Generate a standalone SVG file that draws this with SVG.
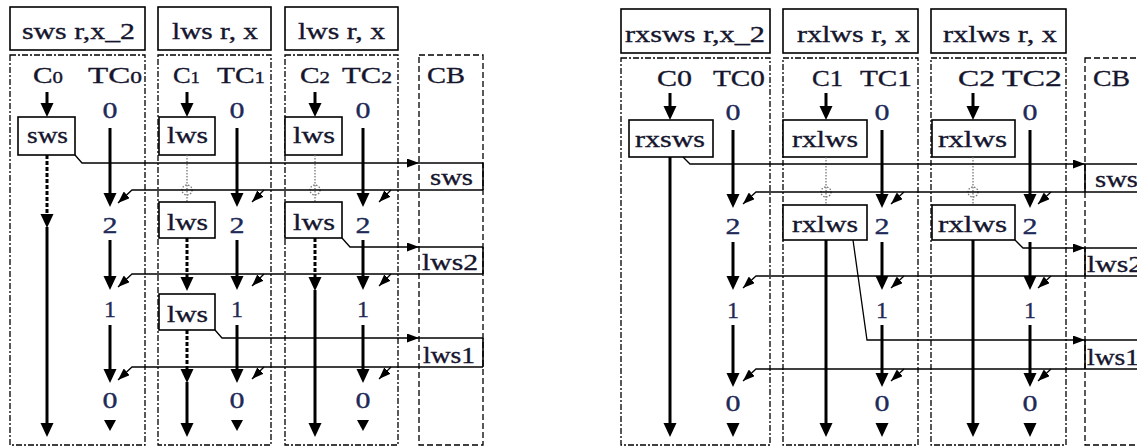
<svg xmlns="http://www.w3.org/2000/svg" xmlns:xlink="http://www.w3.org/1999/xlink" width="1137" height="447" viewBox="0 0 1137 447">
  <style>
    .t { font-family: "Liberation Serif", "Times New Roman", serif; font-size: 24px; fill: #15152e; stroke: #15152e; stroke-width: 0.35; }
    .d { font-family: "Liberation Serif", "Times New Roman", serif; font-size: 24px; fill: #1e2a58; stroke: #1e2a58; stroke-width: 0.35; text-anchor: middle; }
    .sub { font-size: 17px; }
    .box { fill: #fff; stroke: #000; stroke-width: 1.6; }
    .panel { fill: none; stroke: #000; stroke-width: 1.3; stroke-dasharray: 6 2 2 2; }
    .cbp { fill: none; stroke: #000; stroke-width: 1.3; stroke-dasharray: 6 3; }
    .thick { stroke: #000; stroke-width: 3; fill: none; }
    .thickdot { stroke: #000; stroke-width: 3; stroke-dasharray: 4 2; fill: none; }
    .thin { stroke: #000; stroke-width: 1.3; fill: none; }
    .edge { stroke: #000; stroke-width: 1.6; fill: none; }
    .ghost { stroke: #777; stroke-width: 1.3; stroke-dasharray: 1.5 1.5; fill: none; }
  </style>
  <defs>
    <path id="ahd" d="M-6.5,-14 L6.5,-14 L0,0 z" fill="#000"/>
    <path id="ahs" d="M-6,-11 L6,-11 L0,0 z" fill="#000"/>
    <marker id="ar" viewBox="0 0 12 9" refX="12" refY="4.5" markerWidth="12" markerHeight="9" markerUnits="userSpaceOnUse" orient="auto">
      <path d="M0,0 L12,4.5 L0,9 z" fill="#000"/>
    </marker>
  </defs>

  <!-- ===================== left figure: sws / lws ===================== -->
  <g id="left-titles">
    <rect class="box" x="10" y="7" width="135" height="43"/>
    <text class="t" x="22" y="39" textLength="113" lengthAdjust="spacingAndGlyphs">sws r,x_2</text>
    <rect class="box" x="158" y="7" width="113" height="43"/>
    <text class="t" x="172" y="39" textLength="86" lengthAdjust="spacingAndGlyphs">lws r, x</text>
    <rect class="box" x="285" y="7" width="113" height="43"/>
    <text class="t" x="298" y="39" textLength="87" lengthAdjust="spacingAndGlyphs">lws r, x</text>
  </g>

  <g id="left-core0">
    <rect class="panel" x="10" y="55" width="135" height="390"/>
    <text class="t" x="33" y="83" textLength="30" lengthAdjust="spacingAndGlyphs">C<tspan class="sub">0</tspan></text>
    <text class="t" x="88" y="83" textLength="54" lengthAdjust="spacingAndGlyphs">TC<tspan class="sub">0</tspan></text>
    <line class="thick" x1="47" y1="92" x2="47" y2="104"/>
    <use xlink:href="#ahd" x="47" y="117"/>
    <rect class="box" x="18" y="117" width="57" height="38"/>
    <text class="t" x="27" y="143" textLength="41" lengthAdjust="spacingAndGlyphs">sws</text>
    <line class="thickdot" x1="47" y1="155" x2="47" y2="215"/>
    <use xlink:href="#ahd" x="47" y="228"/>
    <line class="thick" x1="47" y1="227" x2="47" y2="424"/>
    <use xlink:href="#ahd" x="47" y="437"/>
    <!-- timestamp counter -->
    <text class="d" x="110" y="118" textLength="15" lengthAdjust="spacingAndGlyphs">0</text>
    <line class="thick" x1="110" y1="128" x2="110" y2="194"/>
    <use xlink:href="#ahd" x="110" y="207"/>
    <text class="d" x="110" y="233" textLength="15" lengthAdjust="spacingAndGlyphs">2</text>
    <line class="thick" x1="110" y1="240" x2="110" y2="277"/>
    <use xlink:href="#ahd" x="110" y="290"/>
    <text class="d" x="110" y="317">1</text>
    <line class="thick" x1="110" y1="325" x2="110" y2="370"/>
    <use xlink:href="#ahd" x="110" y="383"/>
    <text class="d" x="110" y="408" textLength="15" lengthAdjust="spacingAndGlyphs">0</text>
    <use xlink:href="#ahs" x="110" y="431"/>
  </g>

  <g id="left-core1">
    <rect class="panel" x="158" y="55" width="113" height="390"/>
    <text class="t" x="173" y="83" textLength="27" lengthAdjust="spacingAndGlyphs">C<tspan class="sub">1</tspan></text>
    <text class="t" x="217" y="83" textLength="48" lengthAdjust="spacingAndGlyphs">TC<tspan class="sub">1</tspan></text>
    <line class="thick" x1="187" y1="92" x2="187" y2="104"/>
    <use xlink:href="#ahd" x="187" y="117"/>
    <rect class="box" x="159" y="117" width="56" height="38"/>
    <text class="t" x="167" y="143" textLength="41" lengthAdjust="spacingAndGlyphs">lws</text>
    <line class="ghost" x1="187" y1="155" x2="187" y2="202"/>
    <circle class="ghost" cx="187" cy="190" r="5"/>
    <rect class="box" x="159" y="202" width="56" height="36"/>
    <text class="t" x="167" y="230" textLength="41" lengthAdjust="spacingAndGlyphs">lws</text>
    <line class="thickdot" x1="187" y1="238" x2="187" y2="278"/>
    <use xlink:href="#ahd" x="187" y="291"/>
    <rect class="box" x="159" y="294" width="56" height="36"/>
    <text class="t" x="167" y="322" textLength="41" lengthAdjust="spacingAndGlyphs">lws</text>
    <line class="thickdot" x1="187" y1="330" x2="187" y2="370"/>
    <use xlink:href="#ahd" x="187" y="383"/>
    <line class="thick" x1="187" y1="382" x2="187" y2="424"/>
    <use xlink:href="#ahd" x="187" y="437"/>
    <text class="d" x="237" y="118" textLength="15" lengthAdjust="spacingAndGlyphs">0</text>
    <line class="thick" x1="237" y1="128" x2="237" y2="194"/>
    <use xlink:href="#ahd" x="237" y="207"/>
    <text class="d" x="237" y="233" textLength="15" lengthAdjust="spacingAndGlyphs">2</text>
    <line class="thick" x1="237" y1="240" x2="237" y2="277"/>
    <use xlink:href="#ahd" x="237" y="290"/>
    <text class="d" x="237" y="317">1</text>
    <line class="thick" x1="237" y1="325" x2="237" y2="370"/>
    <use xlink:href="#ahd" x="237" y="383"/>
    <text class="d" x="237" y="408" textLength="15" lengthAdjust="spacingAndGlyphs">0</text>
    <use xlink:href="#ahs" x="237" y="431"/>
  </g>

  <g id="left-core2">
    <rect class="panel" x="285" y="55" width="113" height="390"/>
    <text class="t" x="300" y="83" textLength="30" lengthAdjust="spacingAndGlyphs">C<tspan class="sub">2</tspan></text>
    <text class="t" x="342" y="83" textLength="50" lengthAdjust="spacingAndGlyphs">TC<tspan class="sub">2</tspan></text>
    <line class="thick" x1="315" y1="92" x2="315" y2="104"/>
    <use xlink:href="#ahd" x="315" y="117"/>
    <rect class="box" x="285" y="117" width="57" height="38"/>
    <text class="t" x="293" y="143" textLength="42" lengthAdjust="spacingAndGlyphs">lws</text>
    <line class="ghost" x1="315" y1="155" x2="315" y2="202"/>
    <circle class="ghost" cx="315" cy="190" r="5"/>
    <rect class="box" x="285" y="202" width="57" height="36"/>
    <text class="t" x="293" y="230" textLength="42" lengthAdjust="spacingAndGlyphs">lws</text>
    <line class="thickdot" x1="315" y1="238" x2="315" y2="278"/>
    <use xlink:href="#ahd" x="315" y="291"/>
    <line class="thick" x1="315" y1="290" x2="315" y2="424"/>
    <use xlink:href="#ahd" x="315" y="437"/>
    <text class="d" x="363" y="118" textLength="15" lengthAdjust="spacingAndGlyphs">0</text>
    <line class="thick" x1="363" y1="128" x2="363" y2="194"/>
    <use xlink:href="#ahd" x="363" y="207"/>
    <text class="d" x="363" y="233" textLength="15" lengthAdjust="spacingAndGlyphs">2</text>
    <line class="thick" x1="363" y1="240" x2="363" y2="277"/>
    <use xlink:href="#ahd" x="363" y="290"/>
    <text class="d" x="363" y="317">1</text>
    <line class="thick" x1="363" y1="325" x2="363" y2="370"/>
    <use xlink:href="#ahd" x="363" y="383"/>
    <text class="d" x="363" y="408" textLength="15" lengthAdjust="spacingAndGlyphs">0</text>
    <use xlink:href="#ahs" x="363" y="431"/>
  </g>

  <g id="left-cb">
    <rect class="cbp" x="419" y="55" width="64" height="390"/>
    <text class="t" x="427" y="83" textLength="38" lengthAdjust="spacingAndGlyphs">CB</text>
    <line class="edge" x1="483" y1="163" x2="483" y2="190"/>
    <text class="t" x="430" y="185" textLength="43" lengthAdjust="spacingAndGlyphs">sws</text>
    <line class="edge" x1="483" y1="247" x2="483" y2="274"/>
    <text class="t" x="422" y="270" textLength="56" lengthAdjust="spacingAndGlyphs">lws2</text>
    <line class="edge" x1="483" y1="338" x2="483" y2="367"/>
    <text class="t" x="423" y="363" textLength="52" lengthAdjust="spacingAndGlyphs">lws1</text>
  </g>

  <g id="left-connectors">
    <line class="thin" x1="419" y1="163" x2="483" y2="163"/>
    <line class="thin" x1="419" y1="247" x2="483" y2="247"/>
    <line class="thin" x1="419" y1="338" x2="483" y2="338"/>
    <path class="thin" d="M75,155 L82,163 L419,163" marker-end="url(#ar)"/>
    <path class="thin" d="M342,238 L350,247 L419,247" marker-end="url(#ar)"/>
    <path class="thin" d="M215,330 L222,338 L419,338" marker-end="url(#ar)"/>
    <path class="thin" d="M483,190 L132,190 L118,203" marker-end="url(#ar)"/>
    <path class="thin" d="M264,190 L252,202" marker-end="url(#ar)"/>
    <path class="thin" d="M391,190 L379,202" marker-end="url(#ar)"/>
    <path class="thin" d="M483,274 L132,274 L118,287" marker-end="url(#ar)"/>
    <path class="thin" d="M264,274 L252,286" marker-end="url(#ar)"/>
    <path class="thin" d="M391,274 L379,286" marker-end="url(#ar)"/>
    <path class="thin" d="M483,367 L132,367 L118,380" marker-end="url(#ar)"/>
    <path class="thin" d="M264,367 L252,379" marker-end="url(#ar)"/>
    <path class="thin" d="M391,367 L379,379" marker-end="url(#ar)"/>
  </g>

  <!-- ===================== right figure: rxsws / rxlws ===================== -->
  <g id="right-titles">
    <rect class="box" x="621" y="9" width="149" height="44"/>
    <text class="t" x="625" y="42" textLength="140" lengthAdjust="spacingAndGlyphs">rxsws r,x_2</text>
    <rect class="box" x="783" y="9" width="135" height="44"/>
    <text class="t" x="797" y="42" textLength="113" lengthAdjust="spacingAndGlyphs">rxlws r, x</text>
    <rect class="box" x="931" y="9" width="135" height="44"/>
    <text class="t" x="943" y="42" textLength="114" lengthAdjust="spacingAndGlyphs">rxlws r, x</text>
  </g>

  <g id="right-core0">
    <rect class="panel" x="621" y="58" width="149" height="387"/>
    <text class="t" x="657" y="86" textLength="35" lengthAdjust="spacingAndGlyphs">C0</text>
    <text class="t" x="713" y="86" textLength="52" lengthAdjust="spacingAndGlyphs">TC0</text>
    <line class="thick" x1="670" y1="93" x2="670" y2="107"/>
    <use xlink:href="#ahd" x="670" y="120"/>
    <rect class="box" x="629" y="120" width="84" height="37"/>
    <text class="t" x="635" y="147" textLength="70" lengthAdjust="spacingAndGlyphs">rxsws</text>
    <line class="thick" x1="670" y1="157" x2="670" y2="424"/>
    <use xlink:href="#ahd" x="670" y="437"/>
    <text class="d" x="733" y="120" textLength="15" lengthAdjust="spacingAndGlyphs">0</text>
    <line class="thick" x1="733" y1="130" x2="733" y2="195"/>
    <use xlink:href="#ahd" x="733" y="208"/>
    <text class="d" x="733" y="234" textLength="15" lengthAdjust="spacingAndGlyphs">2</text>
    <line class="thick" x1="733" y1="242" x2="733" y2="277"/>
    <use xlink:href="#ahd" x="733" y="290"/>
    <text class="d" x="733" y="318">1</text>
    <line class="thick" x1="733" y1="325" x2="733" y2="374"/>
    <use xlink:href="#ahd" x="733" y="387"/>
    <text class="d" x="733" y="411" textLength="15" lengthAdjust="spacingAndGlyphs">0</text>
    <use xlink:href="#ahd" x="733" y="437"/>
  </g>

  <g id="right-core1">
    <rect class="panel" x="783" y="58" width="135" height="387"/>
    <text class="t" x="812" y="86" textLength="31" lengthAdjust="spacingAndGlyphs">C1</text>
    <text class="t" x="860" y="86" textLength="52" lengthAdjust="spacingAndGlyphs">TC1</text>
    <line class="thick" x1="826" y1="93" x2="826" y2="107"/>
    <use xlink:href="#ahd" x="826" y="120"/>
    <rect class="box" x="783" y="120" width="84" height="37"/>
    <text class="t" x="792" y="147" textLength="66" lengthAdjust="spacingAndGlyphs">rxlws</text>
    <line class="ghost" x1="826" y1="157" x2="826" y2="205"/>
    <circle class="ghost" cx="826" cy="192" r="5"/>
    <rect class="box" x="783" y="205" width="84" height="35"/>
    <text class="t" x="792" y="232" textLength="66" lengthAdjust="spacingAndGlyphs">rxlws</text>
    <line class="thick" x1="826" y1="240" x2="826" y2="424"/>
    <use xlink:href="#ahd" x="826" y="437"/>
    <text class="d" x="882" y="120" textLength="15" lengthAdjust="spacingAndGlyphs">0</text>
    <line class="thick" x1="882" y1="130" x2="882" y2="195"/>
    <use xlink:href="#ahd" x="882" y="208"/>
    <text class="d" x="882" y="234" textLength="15" lengthAdjust="spacingAndGlyphs">2</text>
    <line class="thick" x1="882" y1="242" x2="882" y2="277"/>
    <use xlink:href="#ahd" x="882" y="290"/>
    <text class="d" x="882" y="318">1</text>
    <line class="thick" x1="882" y1="325" x2="882" y2="374"/>
    <use xlink:href="#ahd" x="882" y="387"/>
    <text class="d" x="882" y="411" textLength="15" lengthAdjust="spacingAndGlyphs">0</text>
    <use xlink:href="#ahd" x="882" y="437"/>
  </g>

  <g id="right-core2">
    <rect class="panel" x="931" y="58" width="135" height="387"/>
    <text class="t" x="958" y="86" textLength="37" lengthAdjust="spacingAndGlyphs">C2</text>
    <text class="t" x="1002" y="86" textLength="60" lengthAdjust="spacingAndGlyphs">TC2</text>
    <line class="thick" x1="973" y1="93" x2="973" y2="107"/>
    <use xlink:href="#ahd" x="973" y="120"/>
    <rect class="box" x="932" y="120" width="83" height="37"/>
    <text class="t" x="938" y="147" textLength="69" lengthAdjust="spacingAndGlyphs">rxlws</text>
    <line class="ghost" x1="973" y1="157" x2="973" y2="205"/>
    <circle class="ghost" cx="973" cy="192" r="5"/>
    <rect class="box" x="932" y="205" width="83" height="35"/>
    <text class="t" x="938" y="232" textLength="69" lengthAdjust="spacingAndGlyphs">rxlws</text>
    <line class="thick" x1="973" y1="240" x2="973" y2="424"/>
    <use xlink:href="#ahd" x="973" y="437"/>
    <text class="d" x="1030" y="120" textLength="15" lengthAdjust="spacingAndGlyphs">0</text>
    <line class="thick" x1="1030" y1="130" x2="1030" y2="195"/>
    <use xlink:href="#ahd" x="1030" y="208"/>
    <text class="d" x="1030" y="234" textLength="15" lengthAdjust="spacingAndGlyphs">2</text>
    <line class="thick" x1="1030" y1="242" x2="1030" y2="277"/>
    <use xlink:href="#ahd" x="1030" y="290"/>
    <text class="d" x="1030" y="318">1</text>
    <line class="thick" x1="1030" y1="325" x2="1030" y2="374"/>
    <use xlink:href="#ahd" x="1030" y="387"/>
    <text class="d" x="1030" y="411" textLength="15" lengthAdjust="spacingAndGlyphs">0</text>
    <use xlink:href="#ahd" x="1030" y="437"/>
  </g>

  <g id="right-cb">
    <rect class="cbp" x="1085" y="58" width="70" height="387"/>
    <text class="t" x="1093" y="86" textLength="37" lengthAdjust="spacingAndGlyphs">CB</text>
    <line class="edge" x1="1085" y1="164" x2="1085" y2="192"/>
    <text class="t" x="1095" y="187" textLength="43" lengthAdjust="spacingAndGlyphs">sws</text>
    <line class="edge" x1="1085" y1="248" x2="1085" y2="276"/>
    <text class="t" x="1087" y="272" textLength="56" lengthAdjust="spacingAndGlyphs">lws2</text>
    <line class="edge" x1="1085" y1="340" x2="1085" y2="369"/>
    <text class="t" x="1087" y="365" textLength="52" lengthAdjust="spacingAndGlyphs">lws1</text>
  </g>

  <g id="right-connectors">
    <line class="thin" x1="1085" y1="164" x2="1137" y2="164"/>
    <line class="thin" x1="1085" y1="248" x2="1137" y2="248"/>
    <line class="thin" x1="1085" y1="340" x2="1137" y2="340"/>
    <path class="thin" d="M683,157 L690,164 L1085,164" marker-end="url(#ar)"/>
    <path class="thin" d="M1015,240 L1023,248 L1085,248" marker-end="url(#ar)"/>
    <path class="thin" d="M853,240 L867,340 L1085,340" marker-end="url(#ar)"/>
    <path class="thin" d="M1140,192 L756,192 L743,204" marker-end="url(#ar)"/>
    <path class="thin" d="M904,192 L891,204" marker-end="url(#ar)"/>
    <path class="thin" d="M1051,192 L1038,204" marker-end="url(#ar)"/>
    <path class="thin" d="M1140,276 L756,276 L743,288" marker-end="url(#ar)"/>
    <path class="thin" d="M904,276 L891,288" marker-end="url(#ar)"/>
    <path class="thin" d="M1051,276 L1038,288" marker-end="url(#ar)"/>
    <path class="thin" d="M1140,369 L756,369 L743,381" marker-end="url(#ar)"/>
    <path class="thin" d="M904,369 L891,381" marker-end="url(#ar)"/>
    <path class="thin" d="M1051,369 L1038,381" marker-end="url(#ar)"/>
  </g>
</svg>
